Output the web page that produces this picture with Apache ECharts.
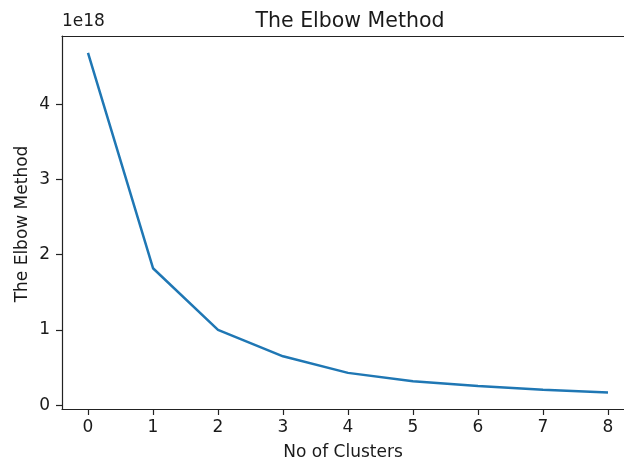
<!DOCTYPE html>
<html>
<head>
<meta charset="utf-8">
<script src="https://cdn.jsdelivr.net/npm/echarts@6/dist/echarts.min.js"></script>
<style>html,body{margin:0;padding:0;background:#fff;}#c{width:624px;height:463px;}</style>
</head>
<body>
<div id="c"></div>
<script>
const clusters = [0, 1, 2, 3, 4, 5, 6, 7, 8];
const wcss = [4.68e18, 1.82e18, 1.0e18, 0.65e18, 0.43e18, 0.32e18, 0.255e18, 0.205e18, 0.17e18];
const xTicks = [0, 1, 2, 3, 4, 5, 6, 7, 8];
const yTicks = [0, 1e18, 2e18, 3e18, 4e18];
const yTitle = 'The Elbow Method';

const chart = echarts.init(document.getElementById('c'), null, {renderer: 'canvas'});
const font = 'DejaVu Sans';
const ink = '#1a1a1a';
const spine = {show: true, onZero: false, lineStyle: {color: '#222', width: 1.2}};
chart.setOption({
  animation: false,
  backgroundColor: '#fff',
  title: {
    text: 'The Elbow Method',
    left: 345, top: 6, textAlign: 'center',
    textStyle: {fontFamily: font, fontSize: 20.5, fontWeight: 'normal', color: ink}
  },
  graphic: [{
    type: 'text', left: 62, top: 13,
    style: {text: '1e18', fontFamily: font, fontSize: 17, fill: ink}
  }, {
    type: 'text', x: 22.5, y: 224, rotation: Math.PI / 2,
    style: {text: yTitle, fontFamily: font, fontSize: 17, fill: ink, align: 'center', verticalAlign: 'middle'}
  }],
  grid: {
    left: 62, top: 36, width: 562, height: 373,
    show: false, containLabel: false, outerBoundsMode: 'none'
  },
  xAxis: [{
    type: 'value', min: -0.4, max: 8.246,
    name: 'No of Clusters', nameLocation: 'middle', nameGap: 35,
    nameTextStyle: {fontFamily: font, fontSize: 17, color: ink},
    axisLine: spine,
    axisTick: {show: true, length: 6, lineStyle: {color: '#222', width: 1.2}, customValues: xTicks},
    axisLabel: {fontFamily: font, fontSize: 17, color: ink, margin: 10, customValues: xTicks},
    splitLine: {show: false}
  }, {
    type: 'value', position: 'top', min: -0.4, max: 8.246,
    axisLine: spine, axisTick: {show: false}, axisLabel: {show: false}, splitLine: {show: false}
  }],
  yAxis: {
    type: 'value', min: -0.05e18, max: 4.905e18,
    axisLine: spine,
    axisTick: {show: true, length: 6, lineStyle: {color: '#222', width: 1.2}, customValues: yTicks},
    axisLabel: {fontFamily: font, fontSize: 17, color: ink, margin: 12, customValues: yTicks,
      formatter: v => String(Math.round(v / 1e18))},
    splitLine: {show: false}
  },
  series: [{
    type: 'line',
    xAxisIndex: 0,
    data: clusters.map((c, i) => [c, wcss[i]]),
    showSymbol: false, symbol: 'none',
    lineStyle: {color: '#1f77b4', width: 2.5},
    clip: true
  }]
});
</script>
</body>
</html>
